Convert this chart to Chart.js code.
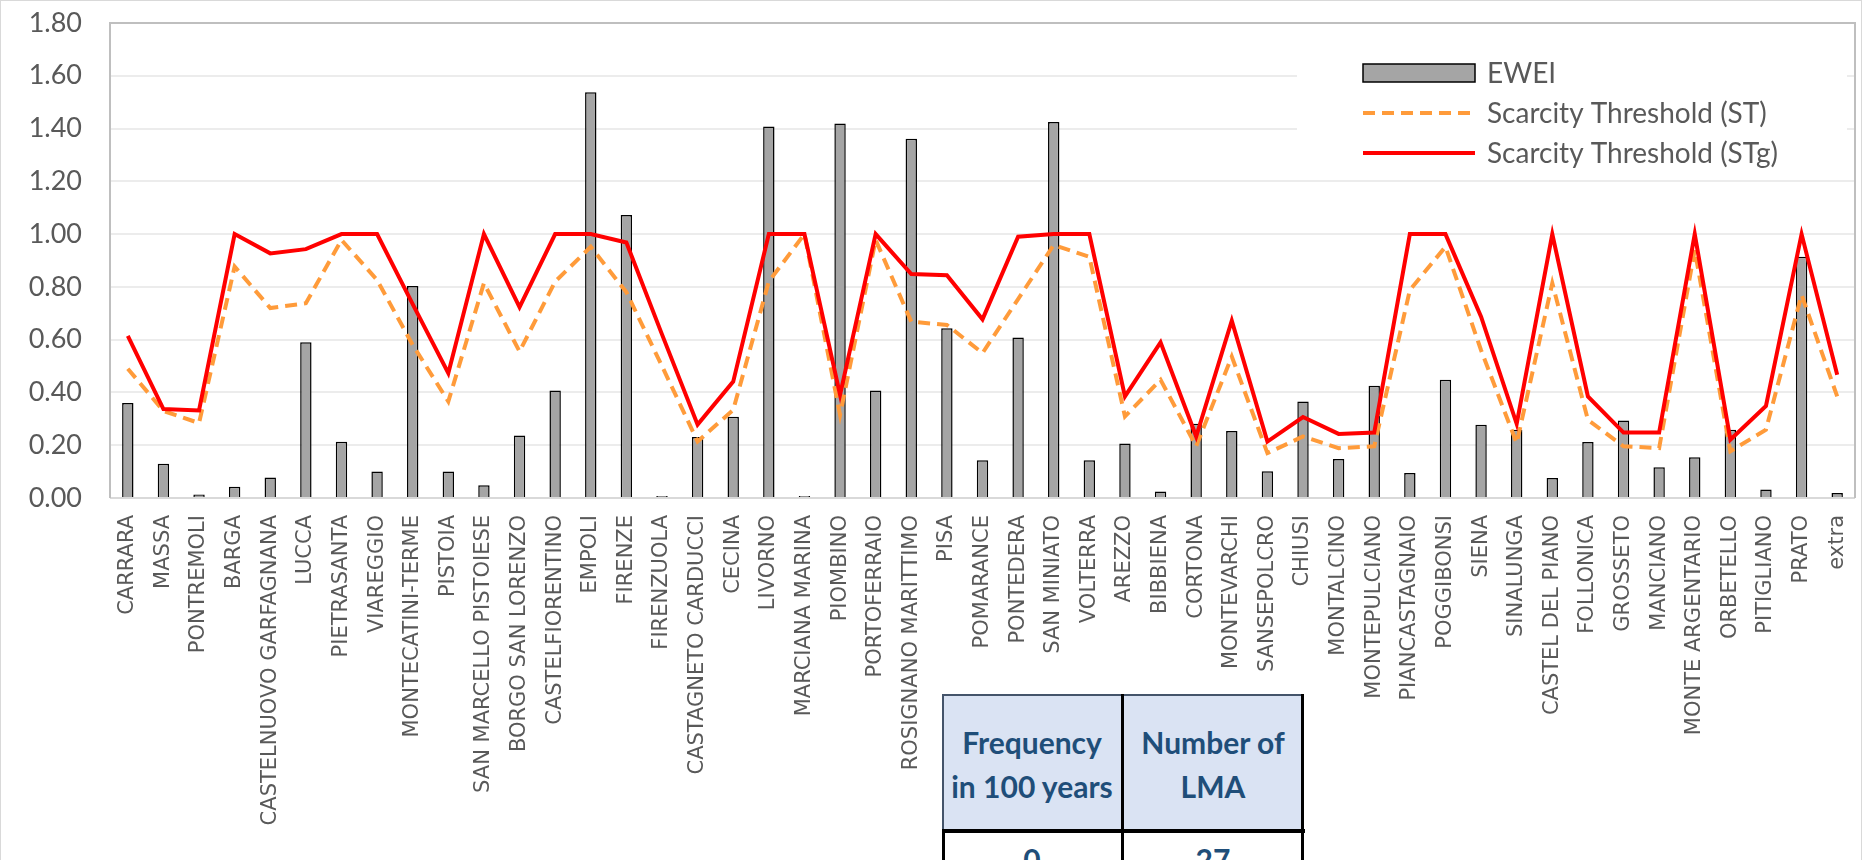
<!DOCTYPE html>
<html>
<head>
<meta charset="utf-8">
<title>EWEI and Scarcity Thresholds by LMA</title>
<script src="https://cdn.jsdelivr.net/npm/chart.js@4.4.1/dist/chart.umd.min.js"></script>
<style>
  html, body { margin: 0; padding: 0; background: #ffffff; overflow: hidden; }
  #wrap { position: relative; width: 1862px; height: 860px; overflow: hidden; }
  #chart { position: absolute; left: 0; top: 0; }
  .cell {
    position: absolute; box-sizing: border-box;
    font-family: Lato, "Open Sans", sans-serif; font-weight: 700;
    font-size: 30px; line-height: 44px; color: #1F4E79;
    text-align: center;
  }
  .head {
    background: #DAE3F3; display: flex; align-items: center; justify-content: center;
    border-top: 2px solid #44546A;
  }
  .body { background: #ffffff; padding-top: 6px; }
</style>
</head>
<body>
<div id="wrap">
  <canvas id="chart" width="1862" height="860"></canvas>
  <div id="table"></div>
</div>
<script>
// Local management areas (LMA) along the x axis
const categories = [
  'CARRARA', 'MASSA', 'PONTREMOLI', 'BARGA', 'CASTELNUOVO GARFAGNANA', 'LUCCA',
  'PIETRASANTA', 'VIAREGGIO', 'MONTECATINI-TERME', 'PISTOIA', 'SAN MARCELLO PISTOIESE',
  'BORGO SAN LORENZO', 'CASTELFIORENTINO', 'EMPOLI', 'FIRENZE', 'FIRENZUOLA',
  'CASTAGNETO CARDUCCI', 'CECINA', 'LIVORNO', 'MARCIANA MARINA', 'PIOMBINO',
  'PORTOFERRAIO', 'ROSIGNANO MARITTIMO', 'PISA', 'POMARANCE', 'PONTEDERA',
  'SAN MINIATO', 'VOLTERRA', 'AREZZO', 'BIBBIENA', 'CORTONA', 'MONTEVARCHI',
  'SANSEPOLCRO', 'CHIUSI', 'MONTALCINO', 'MONTEPULCIANO', 'PIANCASTAGNAIO',
  'POGGIBONSI', 'SIENA', 'SINALUNGA', 'CASTEL DEL PIANO', 'FOLLONICA', 'GROSSETO',
  'MANCIANO', 'MONTE ARGENTARIO', 'ORBETELLO', 'PITIGLIANO', 'PRATO', 'extra'
];

// Extreme Water Event Index
const ewei = [
  0.36, 0.13, 0.013, 0.043, 0.078, 0.59, 0.213, 0.10, 0.803, 0.10,
  0.048, 0.237, 0.407, 1.538, 1.072, 0.008, 0.231, 0.308, 1.408, 0.008,
  1.419, 0.407, 1.361, 0.643, 0.143, 0.608, 1.425, 0.143, 0.207, 0.025,
  0.281, 0.254, 0.101, 0.366, 0.148, 0.425, 0.095, 0.448, 0.278, 0.259,
  0.076, 0.212, 0.294, 0.117, 0.154, 0.259, 0.032, 0.914, 0.019
];

// Scarcity Threshold (ST)
const scarcityST = [
  0.49, 0.33, 0.284, 0.877, 0.72, 0.738, 0.978, 0.826, 0.58, 0.366,
  0.814, 0.555, 0.82, 0.952, 0.78, 0.50, 0.214, 0.334, 0.82, 1.0,
  0.315, 0.978, 0.668, 0.656, 0.549, 0.754, 0.959, 0.914, 0.309, 0.448,
  0.196, 0.536, 0.17, 0.233, 0.189, 0.196, 0.788, 0.952, 0.56, 0.208,
  0.814, 0.296, 0.196, 0.189, 0.94, 0.177, 0.259, 0.77, 0.385
];

// Scarcity Threshold (STg)
const scarcitySTg = [
  0.614, 0.337, 0.332, 1.0, 0.927, 0.943, 1.0, 1.0, 0.735, 0.473,
  1.0, 0.723, 1.0, 1.0, 0.968, 0.62, 0.278, 0.441, 1.0, 1.0,
  0.391, 1.0, 0.849, 0.844, 0.677, 0.99, 1.0, 1.0, 0.385, 0.59,
  0.233, 0.672, 0.214, 0.307, 0.243, 0.248, 1.0, 1.0, 0.687, 0.281,
  1.0, 0.385, 0.248, 0.248, 1.0, 0.221, 0.349, 1.0, 0.467
];

const seriesNames = ['EWEI', 'Scarcity Threshold (ST)', 'Scarcity Threshold (STg)'];

// y axis range and tick step
const yMin = 0, yMax = 1.8, yStep = 0.2;

// Frequency table shown under the axis labels
const tableHeaders = [['Frequency', 'in 100 years'], ['Number of', 'LMA']];
const tableRow = ['0', '27'];

// Plot area frame, x axis line and outer chart border
const framePlugin = {
  id: 'frame',
  beforeDatasetsDraw(chart) {
    const { ctx, chartArea: a } = chart;
    ctx.save();
    ctx.lineWidth = 2;
    ctx.strokeStyle = '#D9D9D9';
    ctx.beginPath();
    ctx.moveTo(a.left, a.bottom);
    ctx.lineTo(a.right, a.bottom);
    ctx.stroke();
    ctx.strokeStyle = '#BFBFBF';
    ctx.beginPath();
    ctx.moveTo(a.left, a.bottom);
    ctx.lineTo(a.left, a.top);
    ctx.lineTo(a.right, a.top);
    ctx.lineTo(a.right, a.bottom);
    ctx.stroke();
    ctx.restore();
  },
  afterDraw(chart) {
    const { ctx } = chart;
    ctx.save();
    ctx.strokeStyle = '#D9D9D9';
    ctx.lineWidth = 1;
    ctx.strokeRect(0.5, 0.5, chart.width - 1, chart.height + 10);
    ctx.restore();
  }
};

// Legend box drawn inside the plot area, top right
const legendPlugin = {
  id: 'insideLegend',
  afterDatasetsDraw(chart) {
    const { ctx } = chart;
    const ds = chart.data.datasets;
    const boxL = 1297, boxT = 40, boxW = 550, boxH = 132;
    const sx = 1363, sw = 112, tx = 1487;
    const rows = [73, 113, 153];
    ctx.save();
    ctx.fillStyle = '#ffffff';
    ctx.fillRect(boxL, boxT, boxW, boxH);
    ctx.font = '28px Lato, "Open Sans", sans-serif';
    ctx.textBaseline = 'middle';
    ctx.textAlign = 'left';
    ds.forEach((d, i) => {
      const y = rows[i];
      if (d.type === 'bar') {
        ctx.fillStyle = d.backgroundColor;
        ctx.fillRect(sx, y - 9, sw, 18);
        ctx.lineWidth = 1.5;
        ctx.strokeStyle = d.borderColor;
        ctx.strokeRect(sx, y - 9, sw, 18);
      } else {
        ctx.lineWidth = d.borderWidth;
        ctx.strokeStyle = d.borderColor;
        ctx.setLineDash(d.borderDash || []);
        ctx.beginPath();
        ctx.moveTo(sx, y);
        ctx.lineTo(sx + sw, y);
        ctx.stroke();
        ctx.setLineDash([]);
      }
      ctx.fillStyle = '#595959';
      ctx.fillText(d.label, tx, y + 1);
    });
    ctx.restore();
  }
};

new Chart(document.getElementById('chart'), {
  data: {
    labels: categories,
    datasets: [
      {
        type: 'bar', label: seriesNames[0], data: ewei, order: 3,
        backgroundColor: '#A5A5A5', borderColor: '#000000', borderWidth: 1.5,
        barPercentage: 0.32, categoryPercentage: 1.0
      },
      {
        type: 'line', label: seriesNames[1], data: scarcityST, order: 2,
        borderColor: '#FF9B3A', borderWidth: 4, borderDash: [12, 7],
        pointRadius: 0, tension: 0, fill: false
      },
      {
        type: 'line', label: seriesNames[2], data: scarcitySTg, order: 1,
        borderColor: '#FF0000', borderWidth: 4,
        pointRadius: 0, tension: 0, fill: false
      }
    ]
  },
  options: {
    responsive: false,
    animation: false,
    devicePixelRatio: 1,
    layout: { padding: { top: 23, right: 7, left: 0, bottom: 0 } },
    plugins: { legend: { display: false }, tooltip: { enabled: false } },
    scales: {
      x: {
        grid: { display: false, drawTicks: false },
        border: { display: false },
        ticks: {
          autoSkip: false, maxRotation: 90, minRotation: 90, padding: 17,
          color: '#595959', font: { family: 'DejaVu Sans', size: 21 }
        },
        afterFit(s) { s.height = 362; s.paddingLeft = 0; s.paddingRight = 0; }
      },
      y: {
        min: yMin, max: yMax,
        grid: { color: '#ECECEC', lineWidth: 2, drawTicks: false },
        border: { display: false },
        ticks: {
          stepSize: yStep, padding: 28, color: '#595959',
          font: { family: 'Lato', size: 27 },
          callback: v => Number(v).toFixed(2)
        },
        afterFit(s) { s.width = 110; s.paddingTop = 0; s.paddingBottom = 0; }
      }
    }
  },
  plugins: [framePlugin, legendPlugin]
});

// Build the frequency table
(function buildTable() {
  const host = document.getElementById('table');
  const left = 942, mid = 1122, right = 1304, top = 694, headBottom = 831;
  const cols = [[left, mid], [mid, right]];
  cols.forEach(([x0, x1], i) => {
    const h = document.createElement('div');
    h.className = 'cell head';
    h.style.left = x0 + 'px';
    h.style.top = top + 'px';
    h.style.width = (x1 - x0) + 'px';
    h.style.height = (headBottom - top) + 'px';
    h.innerHTML = tableHeaders[i].join('<br>');
    host.appendChild(h);
    const b = document.createElement('div');
    b.className = 'cell body';
    b.style.left = x0 + 'px';
    b.style.top = headBottom + 'px';
    b.style.width = (x1 - x0) + 'px';
    b.style.height = '80px';
    b.textContent = tableRow[i];
    host.appendChild(b);
  });
  const rule = (x, y, w, h, c) => {
    const d = document.createElement('div');
    d.style.cssText = `position:absolute;left:${x}px;top:${y}px;width:${w}px;height:${h}px;background:${c}`;
    host.appendChild(d);
  };
  rule(left, top, 2, headBottom - top, '#44546A');
  rule(left, headBottom, 3, 60, '#000000');
  rule(mid - 1, top, 3, 200, '#000000');
  rule(right - 3, top, 3, 200, '#000000');
  rule(left, headBottom - 2, right - left + 1, 4, '#000000');
})();
</script>
</body>
</html>
